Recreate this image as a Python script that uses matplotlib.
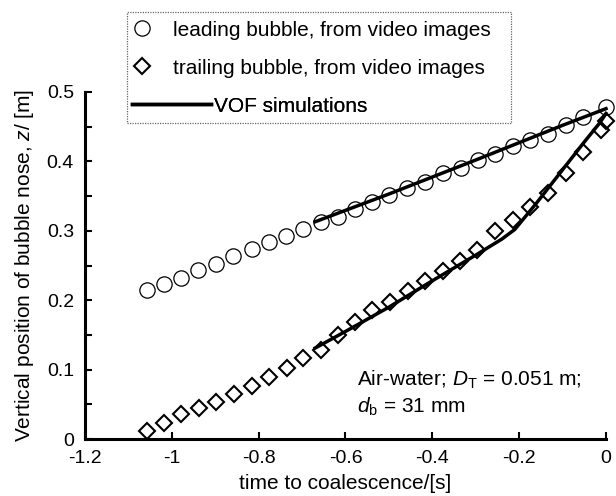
import matplotlib
matplotlib.use("Agg")
import matplotlib.pyplot as plt
from matplotlib.lines import Line2D
from matplotlib.patches import Rectangle
from matplotlib.ticker import MultipleLocator, FormatStrFormatter

plt.rcParams["font.family"] = ["Liberation Sans", "DejaVu Sans"]
plt.rcParams["mathtext.fontset"] = "custom"
plt.rcParams["mathtext.rm"] = "Liberation Sans"
plt.rcParams["mathtext.it"] = "Liberation Sans:italic"
plt.rcParams["axes.unicode_minus"] = False

# leading bubble (video images)
lead_t = [-1.058, -1.018, -0.980, -0.939, -0.899, -0.859, -0.816, -0.776, -0.736,
          -0.697, -0.657, -0.617, -0.578, -0.538, -0.499, -0.458, -0.417, -0.375,
          -0.334, -0.294, -0.256, -0.215, -0.175, -0.133, -0.093, -0.052, 0.0]
lead_z = [0.215, 0.223, 0.232, 0.244, 0.252, 0.263, 0.274, 0.284, 0.293,
          0.303, 0.312, 0.320, 0.332, 0.342, 0.352, 0.362, 0.371, 0.383,
          0.390, 0.402, 0.411, 0.422, 0.431, 0.440, 0.452, 0.464, 0.479]

# trailing bubble (video images)
trail_t = [-1.058, -1.018, -0.978, -0.938, -0.898, -0.857, -0.816, -0.776, -0.735,
           -0.697, -0.657, -0.618, -0.578, -0.538, -0.498, -0.457, -0.417, -0.376,
           -0.336, -0.296, -0.256, -0.215, -0.175, -0.133, -0.093, -0.052, -0.012, 0.0]
trail_z = [0.011, 0.023, 0.036, 0.045, 0.054, 0.065, 0.077, 0.090, 0.103,
           0.116, 0.128, 0.150, 0.168, 0.186, 0.198, 0.213, 0.228, 0.242,
           0.256, 0.273, 0.299, 0.316, 0.335, 0.355, 0.383, 0.413, 0.445, 0.458]

# VOF simulations
vof_lead_t = [-0.67, -0.5, -0.3, -0.1, 0.0]
vof_lead_z = [0.313, 0.353, 0.402, 0.452, 0.476]
vof_trail_t = [-0.67, -0.6, -0.5, -0.4, -0.3, -0.24, -0.21, -0.16, -0.1, -0.05, -0.015, 0.0]
vof_trail_z = [0.131, 0.155, 0.190, 0.228, 0.265, 0.288, 0.302, 0.340, 0.388, 0.428, 0.455, 0.469]

fig = plt.figure(figsize=(6.16, 4.96), dpi=100)
ax = fig.add_axes([85/616, 1-439/496, 521/616, 347/496])

ax.plot(lead_t, lead_z, ls="none", marker="o", ms=11, mfc="none", mec="k", mew=0.9, clip_on=False)
ax.plot(trail_t, trail_z, ls="none", marker="D", ms=8, mfc="none", mec="k", mew=1.5, clip_on=False)
ax.plot(vof_lead_t, vof_lead_z, color="k", lw=2.5, clip_on=False)
ax.plot(vof_trail_t, vof_trail_z, color="k", lw=2.5, clip_on=False)

ax.set_xlim(-1.2, 0)
ax.set_ylim(0, 0.5)
ax.xaxis.set_major_locator(MultipleLocator(0.2))
ax.yaxis.set_major_locator(MultipleLocator(0.1))
ax.yaxis.set_minor_locator(MultipleLocator(0.05))
ax.xaxis.set_major_formatter(FormatStrFormatter("%g"))
ax.yaxis.set_major_formatter(FormatStrFormatter("%g"))
ax.tick_params(which="both", direction="in", length=5, width=1.5, labelsize=14, pad=8)
ax.tick_params(axis="x", which="minor", length=0)
for s in ["top", "right"]:
    ax.spines[s].set_visible(False)
for s in ["left", "bottom"]:
    ax.spines[s].set_linewidth(2.2)

ax.set_xlabel("time to coalescence/[s]", fontsize=15, labelpad=5)
ax.set_ylabel("Vertical position of bubble nose, $z$/ [m]", fontsize=15, labelpad=8)

ax.text(0.522, 0.170, "Air-water; $D_\\mathrm{T}$ = 0.051 m;", transform=ax.transAxes,
        fontsize=15, va="center", ha="left")
ax.text(0.522, 0.092, "$d_\\mathrm{b}$ = 31 mm", transform=ax.transAxes,
        fontsize=15, va="center", ha="left")

# legend: framed box holding three single-entry legends
fig.add_artist(Rectangle((127/616, 1-123/496), 384/616, 111/496, transform=fig.transFigure,
                         fill=False, ec="#666666", lw=0.9, ls=(0, (1, 1))))
h_lead = Line2D([], [], ls="none", marker="o", ms=11, mfc="none", mec="k", mew=0.9)
h_trail = Line2D([], [], ls="none", marker="D", ms=8, mfc="none", mec="k", mew=1.5)
h_vof = Line2D([], [], color="k", lw=2.5)
rows = [(h_lead, "leading bubble, from video images", 30, 1.0, 0.98),
        (h_trail, "trailing bubble, from video images", 68, 1.0, 0.98),
        (h_vof, "VOF simulations", 106, 3.8, 0.15)]
for h, lab, yc, hl, tp in rows:
    leg = ax.legend([h], [lab], loc="center left", bbox_to_anchor=(132/616, 1-yc/496),
                    bbox_transform=fig.transFigure, frameon=False, fontsize=15,
                    borderpad=0, borderaxespad=0, handlelength=hl, handletextpad=tp)
    ax.add_artist(leg)

fig.savefig("out.png", dpi=100)
